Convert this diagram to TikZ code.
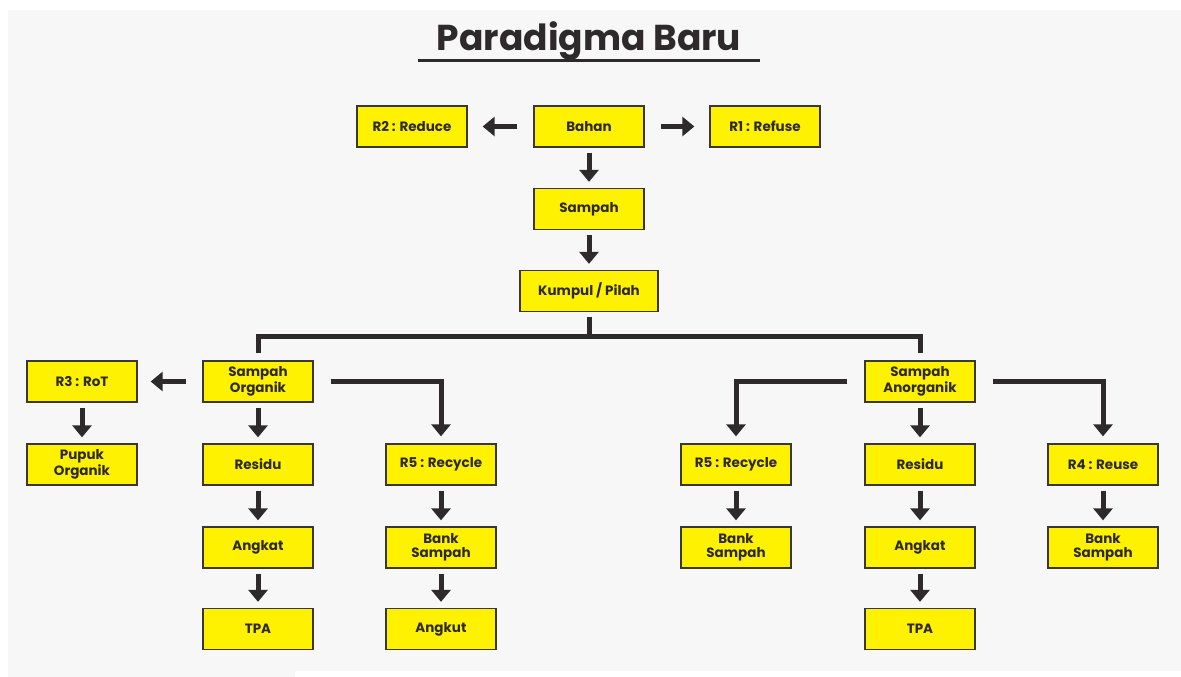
\documentclass[tikz,border=0pt]{standalone}
\usepackage{fontspec}
\setmainfont{Poppins}
\usetikzlibrary{arrows.meta}
\definecolor{bg}{HTML}{F7F7F7}
\definecolor{boxfill}{HTML}{FFF200}
\definecolor{boxline}{HTML}{3A3632}
\definecolor{arrc}{HTML}{2E2A2B}
\definecolor{textc}{HTML}{2E2A2B}
\tikzset{
  box/.style={draw=boxline, fill=boxfill, line width=1.3pt, minimum width=110pt, minimum height=41pt, inner sep=0pt, align=center, text=textc, font=\bfseries\fontsize{13.5}{14}\selectfont},
  arr/.style={draw=arrc, line width=5pt, line join=miter, -{Triangle[width=19pt,length=12pt]}},
  ln/.style={draw=arrc, line width=5pt, line join=miter},
}
\begin{document}
\begin{tikzpicture}[x=1pt,y=-1pt]
\useasboundingbox (0,0) rectangle (1181,677);
\fill[white] (0,0) rectangle (1181,677);
\fill[bg] (8,10) rectangle (1181,677);
\fill[white] (295,671) rectangle (1181,677);
% title
\node[text=textc, font=\bfseries\fontsize{36}{36}\selectfont, anchor=base] (title) at (589,51) {Paradigma Baru};
\draw[arrc, line width=3pt] (418,61) -- (760,61);
% top row
\node[box] (bahan) at (589,126.5) {Bahan};
\node[box] (r2) at (412,126.5) {R2 : Reduce};
\node[box] (r1) at (765,126.5) {R1 : Refuse};
\node[box] (sampah) at (589,209) {Sampah};
\node[box, minimum width=138pt] (kumpul) at (589,291) {Kumpul / Pilah};
% organic side
\node[box] (org) at (258,381.5) {Sampah\\Organik};
\node[box] (r3) at (82,381.5) {R3 : RoT};
\node[box] (pupuk) at (82,464.5) {Pupuk\\Organik};
\node[box] (resa) at (258,464.5) {Residu};
\node[box] (anga) at (258,547.5) {Angkat};
\node[box] (tpaa) at (258,629) {TPA};
\node[box] (r5a) at (441,464.5) {R5 : Recycle};
\node[box] (banka) at (441,547.5) {Bank\\Sampah};
\node[box] (angkut) at (441,629) {Angkut};
% anorganic side
\node[box] (anorg) at (920,381.5) {Sampah\\Anorganik};
\node[box] (r5b) at (736,464.5) {R5 : Recycle};
\node[box] (bankb) at (736,547.5) {Bank\\Sampah};
\node[box] (resb) at (920,464.5) {Residu};
\node[box] (angb) at (920,547.5) {Angkat};
\node[box] (tpab) at (920,629) {TPA};
\node[box] (r4) at (1103,464.5) {R4 : Reuse};
\node[box] (bankc) at (1103,547.5) {Bank\\Sampah};
% arrows top
\draw[arr] ([xshift=-16pt]bahan.west) -- ([xshift=15pt]r2.east);
\draw[arr] ([xshift=16pt]bahan.east) -- ([xshift=-15pt]r1.west);
\draw[arr] ([yshift=-5pt]bahan.south) -- ([yshift=6pt]sampah.north);
\draw[arr] ([yshift=-5pt]sampah.south) -- ([yshift=6pt]kumpul.north);
% tree
\coordinate (junc) at (589,336);
\draw[ln] ([yshift=-5pt]kumpul.south) -- (junc);
\draw[ln] ([yshift=7pt]org.north) |- (junc) -| ([yshift=7pt]anorg.north);
% organic arrows
\draw[arr] ([xshift=-16pt]org.west) -- ([xshift=13pt]r3.east);
\draw[arr] ([yshift=-5pt]r3.south) -- ([yshift=6pt]pupuk.north);
\draw[arr] ([yshift=-5pt]org.south) -- ([yshift=6pt]resa.north);
\draw[arr] ([yshift=-5pt]resa.south) -- ([yshift=6pt]anga.north);
\draw[arr] ([yshift=-5pt]anga.south) -- ([yshift=6pt]tpaa.north);
\draw[arr] ([xshift=17pt]org.east) -| ([yshift=7pt]r5a.north);
\draw[arr] ([yshift=-5pt]r5a.south) -- ([yshift=6pt]banka.north);
\draw[arr] ([yshift=-5pt]banka.south) -- ([yshift=6pt]angkut.north);
% anorganic arrows
\draw[arr] ([xshift=-17pt]anorg.west) -| ([yshift=7pt]r5b.north);
\draw[arr] ([xshift=17pt]anorg.east) -| ([yshift=7pt]r4.north);
\draw[arr] ([yshift=-5pt]anorg.south) -- ([yshift=6pt]resb.north);
\draw[arr] ([yshift=-5pt]resb.south) -- ([yshift=6pt]angb.north);
\draw[arr] ([yshift=-5pt]angb.south) -- ([yshift=6pt]tpab.north);
\draw[arr] ([yshift=-5pt]r5b.south) -- ([yshift=6pt]bankb.north);
\draw[arr] ([yshift=-5pt]r4.south) -- ([yshift=6pt]bankc.north);
\end{tikzpicture}
\end{document}
